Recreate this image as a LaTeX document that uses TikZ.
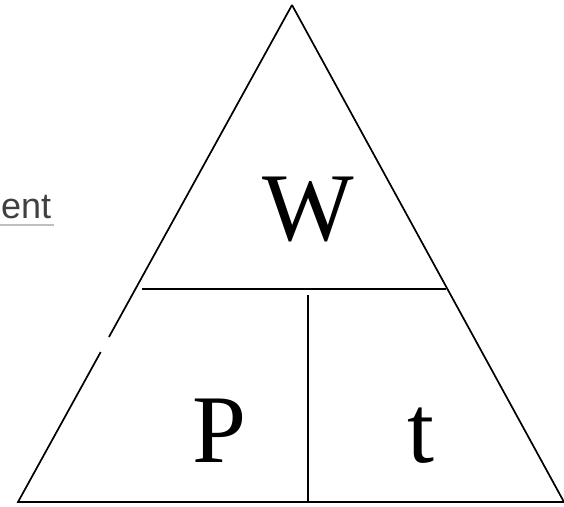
\documentclass[tikz,border=0pt]{standalone}
\usepackage{fontspec}
\setmainfont{Liberation Serif}
\newfontfamily\uisans{Liberation Sans}
\usetikzlibrary{calc}
\begin{document}
\begin{tikzpicture}[
			x=1pt, y=-1pt,
			edge/.style={draw, line width=1.7pt},
			big letter/.style={font=\fontsize{97}{100}\selectfont, inner sep=0pt, anchor=base},
			clip word/.style={font=\uisans\fontsize{36}{38}\selectfont, text=black!75, inner sep=0pt, anchor=base west}
			]
			\useasboundingbox (0,0) rectangle (564,506);
			
			\coordinate (top) at (292,5);
			\coordinate (bl) at (18,502);
			\coordinate (br) at (564,502);
			\coordinate (midl) at (142,289);
			\coordinate (midr) at (446,289);
			\coordinate (gapa) at ($(top)!0.6680!(bl)$);
			\coordinate (gapb) at ($(top)!0.6982!(bl)$);
			\coordinate (splitt) at (308,295);
			\coordinate (splitb) at (308,502);
			
			\draw[edge] (top) -- (gapa);
			\draw[edge] (gapb) -- (bl) -- (br) -- (top);
			\draw[edge] (midl) -- (midr);
			\draw[edge] (splitt) -- (splitb);
			
			\node[big letter] (work) at (308,240) {W};
			\node[big letter] (power) at (219,462) {P};
			\node[big letter] (time) at (421,462) {t};
			
			\node[clip word] (frag) at (1,218) {ent};
			\draw[black!25, line width=1.5pt] (0,225) -- (54,225);
			
		\end{tikzpicture}
\end{document}
